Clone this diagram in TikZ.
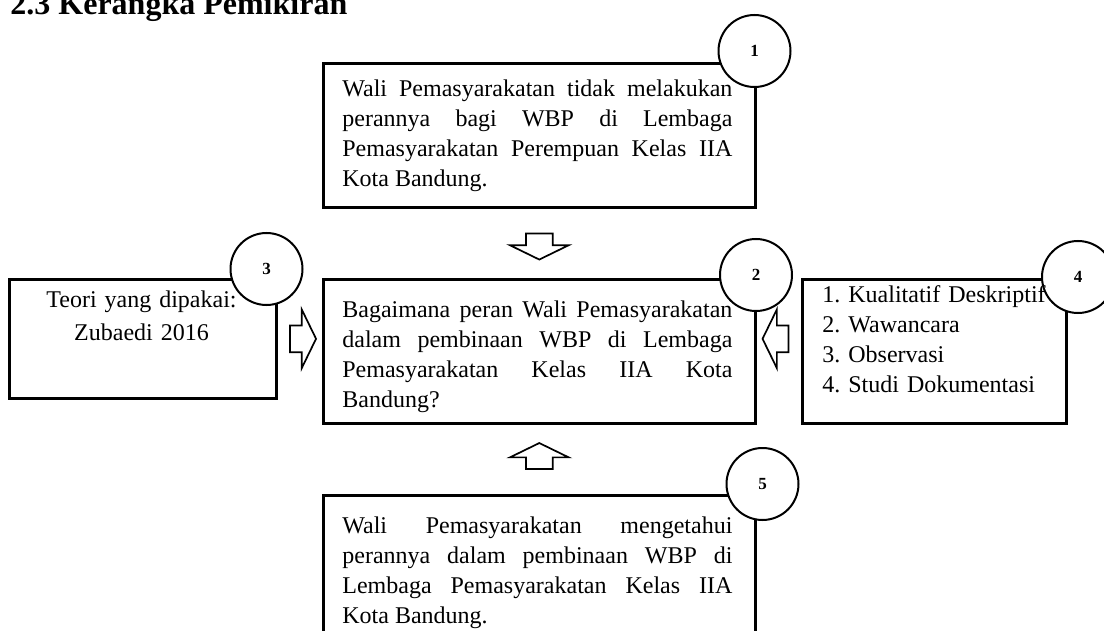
\documentclass[tikz,border=0pt]{standalone}
\usepackage{fontspec}
\setmainfont{Liberation Serif}
\usetikzlibrary{shapes.arrows,calc}

\hyphenpenalty=10000
\tolerance=10000
\frenchspacing

\tikzset{
  frame/.style={draw, line width=1.3pt, anchor=north west, inner sep=0pt},
  badge/.style={draw, circle, fill=white, line width=1pt, minimum size=36pt, inner sep=0pt, font=\bfseries\fontsize{8.5}{9}\selectfont},
  body/.style={anchor=base west, inner sep=0pt, text width=195pt, align=justify, font=\fontsize{12}{15}\selectfont},
  hollow/.style={single arrow, draw, fill=white, line width=0.85pt, inner xsep=0pt, inner ysep=6.25pt, single arrow head extend=8pt, single arrow tip angle=128, minimum height=13pt}
}

\begin{document}
\begin{tikzpicture}[x=0.5pt,y=-0.5pt]
    \useasboundingbox (0,0) rectangle (1104,631);
    \clip (0,0) rectangle (1104,631);

    \node[anchor=base west, inner sep=0pt, font=\bfseries\fontsize{16}{19}\selectfont] (title) at (10,15) {2.3 Kerangka Pemikiran};

    % boxes
    \node[frame, minimum width=216pt, minimum height=72pt] (b1) at (322,62) {};
    \node[frame, minimum width=216pt, minimum height=72pt] (b2) at (322,278) {};
    \node[frame, minimum width=133.5pt, minimum height=59.5pt] (b3) at (8,278) {};
    \node[frame, minimum width=132pt, minimum height=72pt] (b4) at (801,278) {};
    \node[frame, minimum width=216pt, minimum height=90pt] (b5) at (322,494) {};

    % numbers
    \node[badge] (n1) at (754.5,51) {1};
    \node[badge] (n2) at (756,275) {2};
    \node[badge] (n3) at (266.5,269) {3};
    \node[badge] (n4) at (1078,277) {4};
    \node[badge] (n5) at (762.5,484) {5};

    % texts
    \node[body] (t1) at (342,97) {Wali Pemasyarakatan tidak melakukan perannya bagi WBP di Lembaga\linebreak Pemasyarakatan Perempuan Kelas IIA\linebreak Kota Bandung.};
    \node[body] (t2) at (342,317) {Bagaimana peran Wali Pemasyarakatan dalam pembinaan WBP di Lembaga Pemasyarakatan Kelas IIA Kota Bandung?};
    \node[body, anchor=base, text width=133pt, align=center] (t3) at (141.5,307) {Teori yang dipakai:\\[1.5pt]Zubaedi 2016};
    \node[body, align=left, text width=120pt] (t4) at (822,302) {1. Kualitatif Deskriptif\\2. Wawancara\\3. Observasi\\4. Studi Dokumentasi};
    \node[body] (t5) at (342,533) {Wali Pemasyarakatan mengetahui perannya dalam pembinaan WBP di Lembaga Pemasyarakatan Kelas IIA Kota Bandung.};

    % arrows
    \node[hollow, rotate=-90] (a1) at ($(b1.south)!0.5!(b2.north)$) {};
    \node[hollow] (a3) at ($(b3.east)!0.5!(b2.west |- b3.east)$) {};
    \node[hollow, rotate=180] (a4) at ($(b4.west |- b3.east)!0.5!(b2.east |- b3.east)$) {};
    \node[hollow, rotate=90] (a5) at ($(b5.north)!0.5!(b2.south)$) {};
\end{tikzpicture}
\end{document}
